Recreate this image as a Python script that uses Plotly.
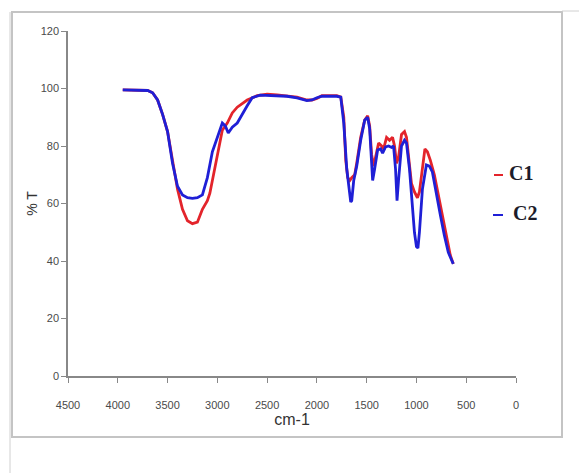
import plotly.graph_objects as go

# ---- data ----
c1_wn = [3950, 3800, 3700, 3650, 3600, 3550, 3500, 3450, 3400, 3350, 3300, 3250, 3200, 3150, 3100, 3075,
         3040, 3000, 2950, 2900, 2850, 2800, 2700, 2600, 2500, 2400, 2300, 2200, 2100, 2050, 2000,
         1950, 1800, 1760, 1730, 1710, 1690, 1670, 1650, 1620, 1600, 1560, 1520, 1490, 1470, 1450,
         1430, 1410, 1380, 1350, 1330, 1300, 1270, 1240, 1220, 1200, 1180, 1150, 1120, 1100, 1070,
         1050, 1020, 990, 970, 940, 915, 890, 860, 820, 780, 740, 700, 660, 630]
c1_t = [99.5, 99.5, 99.3, 98.5, 96, 91, 85, 75, 65, 58, 54, 53, 53.5, 58, 61, 63.6,
        70, 76, 85.5, 88, 91.5, 93.5, 96, 97.5, 98, 97.8, 97.5, 97, 96, 96, 96.5,
        97.5, 97.5, 97, 90, 75, 69, 68, 69, 70, 74, 83, 89, 90.5, 87, 77,
        73, 76, 81, 80, 79, 83, 82, 83, 80, 74, 76, 84, 85, 83, 74,
        67, 64, 62, 64, 72, 79, 78, 75, 70, 63, 55, 48, 42, 39]

c2_wn = [3950, 3800, 3700, 3650, 3600, 3550, 3500, 3450, 3400, 3350, 3300, 3250, 3200, 3150, 3100, 3050,
         3000, 2950, 2920, 2890, 2850, 2800, 2700, 2650, 2570, 2400, 2300, 2200, 2100, 2050, 2000,
         1950, 1800, 1760, 1730, 1700, 1680, 1660, 1650, 1630, 1600, 1560, 1520, 1490, 1470, 1450,
         1440, 1420, 1390, 1360, 1340, 1310, 1280, 1250, 1230, 1210, 1195, 1180, 1150, 1120, 1100,
         1070, 1040, 1020, 1000, 985, 970, 940, 900, 870, 840, 800, 760, 720, 680, 630]
c2_t = [99.5, 99.5, 99.3, 98.5, 96, 91, 85, 74, 66, 63, 62, 61.8, 62, 63, 69, 78,
        83, 88, 87, 84.5, 86.5, 88, 94, 96.8, 97.7, 97.5, 97.3, 96.7, 95.8, 96, 96.8,
        97.3, 97.3, 97, 88, 72, 65, 60.5, 61, 68, 73, 82, 89, 90, 86, 75,
        68, 72, 78.6, 79, 77.5, 79.7, 80, 79.5, 80, 72, 61, 68, 80, 82, 81,
        72, 58, 50, 45, 44.5, 50, 65, 73.4, 73, 71, 63, 56, 49, 43, 39]

series_names = ["C1", "C2"]
series_colors = ["#e3242b", "#1f1fd6"]
x_ticks = [4500, 4000, 3500, 3000, 2500, 2000, 1500, 1000, 500, 0]
y_ticks = [0, 20, 40, 60, 80, 100, 120]

OFF = 8  # page body margin
W, H = 587 - OFF, 473 - OFF
L, R, T, B = 68, 516, 31, 376  # plot area in reference-page pixels


def px(x):
    return (x - L) / (R - L)


def py(y):
    return (B - y) / (B - T)


fig = go.Figure()
for wn, t, name, col in [(c1_wn, c1_t, series_names[0], series_colors[0]),
                         (c2_wn, c2_t, series_names[1], series_colors[1])]:
    fig.add_trace(go.Scatter(x=wn, y=t, mode="lines", name=name,
                             line=dict(color=col, width=2.8), showlegend=False))

axis_font = dict(family="Liberation Sans, Arial, sans-serif", size=11, color="#4a4a4a")

fig.update_layout(
    width=W, height=H,
    margin=dict(l=L - OFF, r=W - (R - OFF), t=T - OFF, b=H - (B - OFF), pad=0),
    paper_bgcolor="white", plot_bgcolor="white",
    xaxis=dict(range=[4500, 0], tickvals=x_ticks, ticks="outside", ticklen=5,
               tickcolor="#888888", showline=True, linecolor="#888888", linewidth=1.5,
               showgrid=False, zeroline=False, tickfont=axis_font, ticklabelstandoff=13,
               title=dict(text="cm-1", font=dict(family="Liberation Sans, Arial, sans-serif",
                                                   size=16, color="#333333"), standoff=0)),
    yaxis=dict(range=[0, 120], tickvals=y_ticks, ticks="outside", ticklen=5,
               tickcolor="#888888", showline=True, linecolor="#888888", linewidth=1.5,
               showgrid=False, zeroline=False, tickfont=axis_font,
               title=dict(text="% T", font=dict(family="Liberation Sans, Arial, sans-serif",
                                                  size=14, color="#333333"), standoff=0)),
)

shapes = []
# outer chart frame
shapes.append(dict(type="rect", xref="paper", yref="paper",
                   x0=px(12), x1=px(562), y0=py(437), y1=py(12),
                   line=dict(color="#c4c4c4", width=2), layer="below"))
# page lines
shapes.append(dict(type="line", xref="paper", yref="paper",
                   x0=px(10), x1=px(10), y0=py(12), y1=py(473),
                   line=dict(color="#d0d0d0", width=1)))
shapes.append(dict(type="line", xref="paper", yref="paper",
                   x0=px(562), x1=px(587), y0=py(11), y1=py(11),
                   line=dict(color="#d0d0d0", width=1)))
# legend dashes
for i, (yy, x0, x1) in enumerate([(175, 494, 503), (215, 493, 503)]):
    shapes.append(dict(type="line", xref="paper", yref="paper",
                       x0=px(x0), x1=px(x1), y0=py(yy), y1=py(yy),
                       line=dict(color=series_colors[i], width=2)))
fig.update_layout(shapes=shapes)

annotations = []
for i, (yy, xx) in enumerate([(173, 507), (213, 511)]):
    annotations.append(dict(xref="paper", yref="paper", x=px(xx), y=py(yy),
                            text="<b>%s</b>" % series_names[i], showarrow=False,
                            xanchor="left", yanchor="middle",
                            font=dict(family="Liberation Serif, Times New Roman, serif",
                                      size=20, color="#1c1c2a")))
fig.update_layout(annotations=annotations)

fig.write_html("out.html")
